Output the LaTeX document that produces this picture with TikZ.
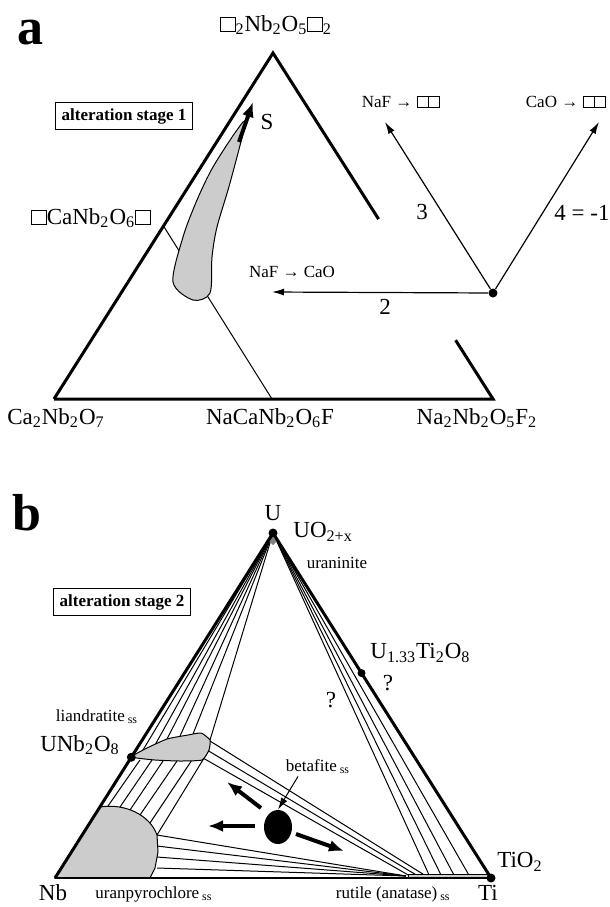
\documentclass[tikz,border=0pt]{standalone}
\usepackage{fontspec}
\setmainfont{Liberation Serif}
\usetikzlibrary{arrows.meta,calc,shapes.geometric}
\newcommand{\chs}[1]{\textsubscript{#1}}
\newcommand{\vac}{{\fboxsep=0pt\fboxrule=0.4pt\fbox{\rule{0pt}{0.6em}\hspace{0.6em}}}}
\tikzset{
  sideline/.style={line width=1.5pt},
  tieline/.style={line width=0.5pt},
  phase/.style={draw,fill=gray!40,line width=0.5pt},
  formula/.style={font=\fontsize{11.5}{13}\selectfont,inner sep=1pt},
  minor/.style={font=\fontsize{8.5}{10}\selectfont,inner sep=1pt},
  stagebox/.style={draw,line width=0.5pt,font=\bfseries\fontsize{8.5}{10}\selectfont,inner sep=3pt},
  panel/.style={font=\bfseries\fontsize{26}{28}\selectfont,inner sep=0pt},
  vector/.style={line width=0.6pt,-{Latex[length=6pt,width=3.5pt]}},
  trend/.style={line width=2pt,-{Latex[length=7.5pt,width=6pt]}},
  point/.style={circle,fill,inner sep=0pt,minimum size=4.5pt}
}

\begin{document}
\begin{tikzpicture}[x=0.5pt,y=-0.5pt]
\useasboundingbox (0,0) rectangle (610,907);
% panel a
\node[panel] (pa) at (31,33) {a};
\coordinate (aT) at (273,53);
\coordinate (aL) at (54,399);
\coordinate (aR) at (493,399);
\coordinate (aM) at (272,399);
\draw[tieline] ($(aT)!0.5!(aL)$) -- (aM);
\draw[phase] plot[smooth cycle,tension=0.5] coordinates {(245,124) (230,183) (217,227) (212,257) (210,293) (193,300) (173,282) (183,237) (197,200) (213,167) (237,130)};
\draw[trend] (239,142) -- (253,102);
\draw[sideline] (aL) -- (aT) -- ($(aT)!0.48!(aR)$);
\draw[sideline] ($(aT)!0.83!(aR)$) -- (aR) -- (aL);
\node[formula] (top) at (276,25) {\vac\chs{2}Nb\chs{2}O\chs{5}\vac\chs{2}};
\node[formula] (cav) at (91,218) {\vac CaNb\chs{2}O\chs{6}\vac};
\node[formula] (cal) at (56,418) {Ca\chs{2}Nb\chs{2}O\chs{7}};
\node[formula] (nca) at (270,418) {NaCaNb\chs{2}O\chs{6}F};
\node[formula] (naf) at (477,418) {Na\chs{2}Nb\chs{2}O\chs{5}F\chs{2}};
\node[formula] (s) at (267,122) {S};
\node[stagebox] (st1) at (124,116) {alteration stage 1};
\node[point] (aD) at (493,293) {};
\coordinate (v2) at (272,292);
\coordinate (v3) at (385,122);
\coordinate (v4) at (599,122);
\draw[vector] (aD) -- (v2);
\draw[vector] (aD) -- (v3);
\draw[vector] (aD) -- (v4);
\node[minor] (l2) at (292,272) {NaF → CaO};
\node[minor] (l3) at (401,102) {NaF → \vac\vac};
\node[minor] (l4) at (566,102) {CaO → \vac\vac};
\node[formula] (n2) at (385,307) {2};
\node[formula] (n3) at (422,212) {3};
\node[formula] (n4) at (582,213) {4 = -1};

% panel b
\node[panel] (pb) at (27,513) {b};
\coordinate (bT) at (273,533);
\coordinate (bL) at (55,878);
\coordinate (bR) at (491,878);
\foreach \x/\y in {143/750,155/745,167/739,180/736,193/734,210/740}
  \draw[tieline] (bT) -- (\x,\y);
\foreach \x in {430,442,455,470}
  \draw[tieline] (bT) -- (\x,877);
\foreach \xa/\ya/\xb/\yb in {140/760/108/806,152/760/120/807,163/761/130/810,177/761/140/815,192/760/150/823,209/750/157/835}
  \draw[tieline] (\xa,\ya) -- (\xb,\yb);
\foreach \xa/\ya/\xb in {210/741/426,207/750/418,203/758/410}
  \draw[tieline] (\xa,\ya) -- (\xb,876);
\foreach \y in {835,846,857,868}
  \draw[tieline] (157,\y) -- (406,876);
\draw[phase] plot[smooth cycle,tension=0.3] coordinates {(132,757) (145,749) (167,739) (188,735) (201,733) (210,740) (209,750) (202,760) (180,761) (155,760)};
\draw[phase] (bL) -- (100,807) .. controls (125,803) and (150,815) .. (157,835) -- (158,852) -- (155,868) -- (150,878) -- cycle;
\draw[phase] (408,874) rectangle (491,878);
\fill[gray] (273,537) -- (277,541) -- (273,545) -- (269,541) -- cycle;
\draw[sideline] (bL) -- (bT) -- (bR);
\draw[line width=1pt] (bL) -- (bR);
\node[point] (pU) at (bT) {};
\node[point] (pT) at (bR) {};
\node[point] (pL) at ($(bT)!0.65!(bL)$) {};
\node[point,minimum size=4pt] (pR) at ($(bT)!0.406!(bR)$) {};
\node[ellipse,fill,inner sep=0pt,minimum width=14pt,minimum height=17pt] (bet) at (278,827) {};
\coordinate (t1) at (227,782);
\coordinate (t2) at (208,826);
\coordinate (t3) at (344,851);
\draw[trend] (261,808) -- (t1);
\draw[trend] (255,826) -- (t2);
\draw[trend] (296,834) -- (t3);
\node[stagebox] (st2) at (122,602) {alteration stage 2};
\node[formula] (u) at (273,513) {U};
\node[formula,anchor=west] (uo) at (291,532) {UO\chs{2+x}};
\node[minor] (ura) at (337,563) {uraninite};
\node[formula,anchor=west] (uti) at (368,653) {U\chs{1.33}Ti\chs{2}O\chs{8}};
\node[formula] (q1) at (388,683) {?};
\node[formula] (q2) at (331,700) {?};
\node[minor] (lia) at (97,717) {liandratite\chs{ ss}};
\node[formula] (unb) at (80,745) {UNb\chs{2}O\chs{8}};
\node[minor] (btl) at (318,767) {betafite\chs{ ss}};
\draw[vector,line width=0.5pt] (btl.south) ++(-20,0) -- (bet.north);
\node[formula] (nb) at (53,893) {Nb};
\node[minor,anchor=west] (upy) at (93,894) {uranpyrochlore\chs{ ss}};
\node[minor,anchor=east] (rut) at (453,894) {rutile (anatase)\chs{ ss}};
\node[formula] (ti) at (488,893) {Ti};
\node[formula] (tio) at (520,862) {TiO\chs{2}};
\end{tikzpicture}
\end{document}
